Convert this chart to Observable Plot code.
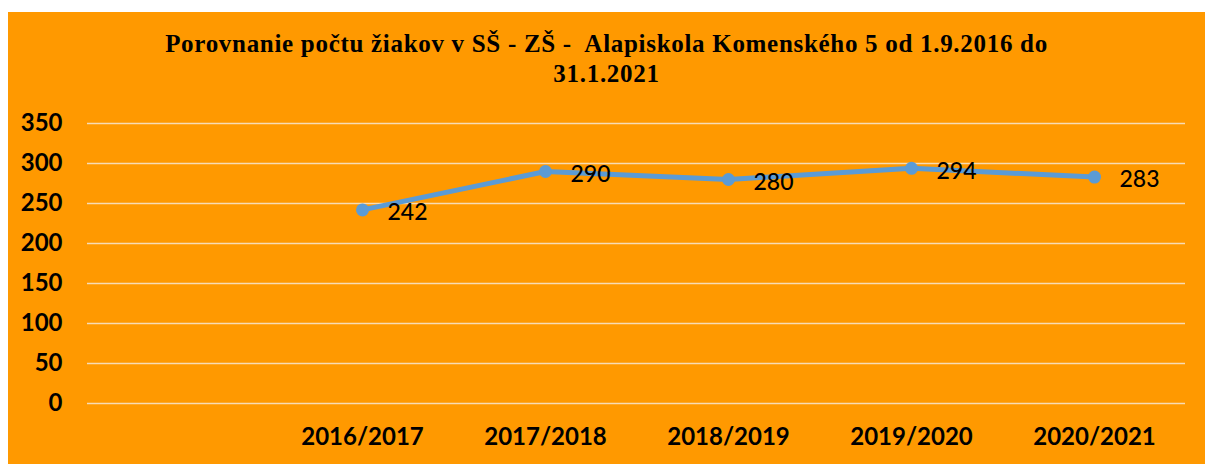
<!DOCTYPE html>
<html>
<head>
<meta charset="utf-8">
<script src="https://cdn.jsdelivr.net/npm/d3@7"></script>
<script src="https://cdn.jsdelivr.net/npm/@observablehq/plot@0.6"></script>
<style>
  html, body { margin: 0; padding: 0; background: #ffffff; }
  #chart { position: absolute; left: 8px; top: 12px; width: 1197px; height: 452px; background: #FF9900; overflow: hidden; }
  #title { position: absolute; left: 0; top: 17px; width: 100%; text-align: center;
           font-family: "Liberation Serif", "Times New Roman", serif; font-weight: bold; font-size: 25px;
           letter-spacing: 0.7px; line-height: 30px; color: #000; }
  #plot { position: absolute; left: 0; top: 88px; }
</style>
</head>
<body>
<div id="chart">
  <div id="title">Porovnanie počtu žiakov v SŠ - ZŠ -&nbsp; Alapiskola Komenského 5 od 1.9.2016 do<br>31.1.2021</div>
  <div id="plot"></div>
</div>
<script>
const categories = ["", "2016/2017", "2017/2018", "2018/2019", "2019/2020", "2020/2021"];
const years = ["2016/2017", "2017/2018", "2018/2019", "2019/2020", "2020/2021"];
const students = [242, 290, 280, 294, 283];
const yTicks = [0, 50, 100, 150, 200, 250, 300, 350];

const data = years.map((y, i) => ({year: y, value: students[i]}));

const chart = Plot.plot({
  width: 1197,
  height: 364,
  marginLeft: 79,
  marginRight: 20,
  marginTop: 23,
  marginBottom: 61,
  style: {background: "transparent", color: "#000", fontFamily: "Lato, sans-serif", fontSize: "24px", fontWeight: "bold", overflow: "visible"},
  x: {type: "point", domain: categories, padding: 0.5, label: null},
  y: {domain: [0, 350], label: null},
  marks: [
    Plot.ruleY(yTicks, {stroke: "#f7dcb5", strokeWidth: 1.5}),
    Plot.axisY({ticks: yTicks, tickSize: 0, tickPadding: 25, label: null}),
    Plot.axisX({ticks: years, tickSize: 0, tickPadding: 24, label: null}),
    Plot.line(data, {x: "year", y: "value", stroke: "#5B9BD5", strokeWidth: 5}),
    Plot.dot(data, {x: "year", y: "value", r: 6.5, fill: "#5B9BD5"}),
    Plot.text(data, {x: "year", y: "value", text: d => String(d.value), dx: 25, dy: 3, textAnchor: "start", fontWeight: 500, fontSize: 23, fill: "#000"})
  ]
});
document.getElementById("plot").appendChild(chart);
</script>
</body>
</html>
